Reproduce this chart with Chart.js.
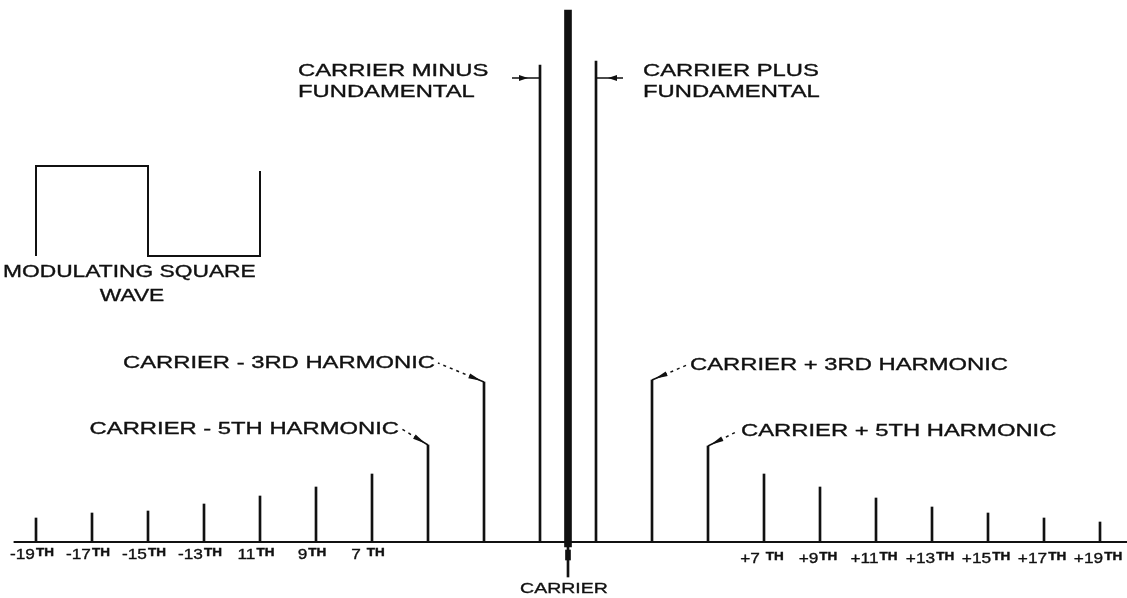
<!DOCTYPE html>
<html lang="en">
<head>
  <meta charset="UTF-8">
  <title>Square wave AM spectrum</title>
  <script src="https://cdn.jsdelivr.net/npm/chart.js"></script>
  <style>
    body { margin: 0; padding: 0; background: #fff; }
    #spectrum { display: block; }
  </style>
</head>
<body>
  <canvas id="spectrum" width="1127" height="598"></canvas>

  <script>
    // sideband order (relative to the carrier) and line height
    const orders = [-19, -17, -15, -13, -11, -9, -7, -5, -3, -1, 1, 3, 5, 7, 9, 11, 13, 15, 17, 19];
    const amplitudes = [24, 29, 31, 38, 46, 55, 68, 97, 160, 477, 481, 162, 96, 68, 55, 44, 35, 29, 24, 20];
    const carrierAmplitude = 532;

    // labels under the baseline
    const tickOrders = [-19, -17, -15, -13, -11, -9, -7, 7, 9, 11, 13, 15, 17, 19];
    const tickNumbers = ['-19', '-17', '-15', '-13', '11', '9', '7 ', '+7 ', '+9', '+11', '+13', '+15', '+17', '+19'];

    // little modulating waveform drawn on the left
    const squareWaveX = [-19, -19, -15, -15, -11, -11];
    const squareWaveY = [286, 376, 376, 286, 286, 371];

    // harmonic call-outs: order, text, leader vector
    const callouts = [
      { n: -3, text: 'CARRIER - 3RD HARMONIC', dx: -46, dy: -19 },
      { n: -5, text: 'CARRIER - 5TH HARMONIC', dx: -26, dy: -16 },
      { n: 3, text: 'CARRIER + 3RD HARMONIC', dx: 35, dy: -15 },
      { n: 5, text: 'CARRIER + 5TH HARMONIC', dx: 30, dy: -15 }
    ];

    const INK = '#111';
    const FONT = '"Liberation Sans", Arial, sans-serif';

    function txt(ctx, s, x, y, size, sx, align, weight) {
      ctx.save();
      ctx.translate(x, y);
      ctx.scale(sx, 1);
      ctx.font = (weight || 'normal') + ' ' + size + 'px ' + FONT;
      ctx.textAlign = align || 'left';
      ctx.textBaseline = 'middle';
      ctx.fillStyle = INK;
      ctx.strokeStyle = INK;
      ctx.lineWidth = 0.35;
      ctx.fillText(s, 0, 0);
      ctx.strokeText(s, 0, 0);
      ctx.restore();
    }

    function wedge(ctx, tx, ty, ux, uy, len, half) {
      const bx = tx + ux * len, by = ty + uy * len;
      ctx.beginPath();
      ctx.moveTo(tx, ty);
      ctx.lineTo(bx - uy * half, by + ux * half);
      ctx.lineTo(bx + uy * half, by - ux * half);
      ctx.closePath();
      ctx.fill();
    }

    const annotations = {
      id: 'annotations',
      afterDatasetsDraw(chart) {
        const ctx = chart.ctx;
        const xs = chart.scales.x, ys = chart.scales.y;
        const base = ys.getPixelForValue(0);
        ctx.save();
        ctx.strokeStyle = INK;
        ctx.fillStyle = INK;
        ctx.lineWidth = 1.5;

        // order labels with small "TH"
        tickOrders.forEach((n, i) => {
          const cx = xs.getPixelForValue(n) - (n < 0 ? 4 : 2);
          const cy = base + (n < 0 ? 13 : 17);
          ctx.font = 'normal 15px ' + FONT;
          const wn = ctx.measureText(tickNumbers[i]).width * 1.15;
          ctx.font = 'bold 10px ' + FONT;
          const wt = ctx.measureText('TH').width * 1.35;
          const left = cx - (wn + wt + 1) / 2;
          txt(ctx, tickNumbers[i], left, cy, 15, 1.15);
          txt(ctx, 'TH', left + wn + 1, cy - 2, 10, 1.35, 'left', 'bold');
        });

        // fundamentals
        const xm = xs.getPixelForValue(-1), xp = xs.getPixelForValue(1);
        const ya = ys.getPixelForValue(amplitudes[orders.indexOf(-1)]) + 13;
        txt(ctx, 'CARRIER MINUS', xm - 242, 71, 17, 1.4);
        txt(ctx, 'FUNDAMENTAL', xm - 242, 92, 17, 1.4);
        txt(ctx, 'CARRIER PLUS', xp + 47, 71, 17, 1.4);
        txt(ctx, 'FUNDAMENTAL', xp + 47, 92, 17, 1.4);
        ctx.beginPath();
        ctx.moveTo(xm - 28, ya); ctx.lineTo(xm, ya);
        ctx.moveTo(xp, ya); ctx.lineTo(xp + 27, ya);
        ctx.stroke();
        wedge(ctx, xm - 12, ya, -1, 0, 9, 3);
        wedge(ctx, xp + 12, ya, 1, 0, 9, 3);

        // harmonic call-outs
        callouts.forEach(c => {
          const ex = xs.getPixelForValue(c.n);
          const ey = ys.getPixelForValue(amplitudes[orders.indexOf(c.n)]);
          const len = Math.hypot(c.dx, c.dy);
          const ux = c.dx / len, uy = c.dy / len;
          ctx.setLineDash([]);
          ctx.beginPath();
          ctx.moveTo(ex, ey);
          ctx.lineTo(ex + ux * 16, ey + uy * 16);
          ctx.stroke();
          wedge(ctx, ex + ux * 3, ey + uy * 3, ux, uy, 13, 2.5);
          ctx.setLineDash([3, 4]);
          ctx.beginPath();
          ctx.moveTo(ex + ux * 20, ey + uy * 20);
          ctx.lineTo(ex + c.dx, ey + c.dy);
          ctx.stroke();
          ctx.setLineDash([]);
          if (c.dx < 0) txt(ctx, c.text, ex + c.dx - 3, ey + c.dy, 17, 1.4, 'right');
          else txt(ctx, c.text, ex + c.dx + 3, ey + c.dy, 17, 1.4, 'left');
        });

        // square wave caption
        txt(ctx, 'MODULATING SQUARE', 3, 272, 17, 1.34);
        txt(ctx, 'WAVE', 132, 296, 17, 1.34, 'center');

        // carrier caption
        txt(ctx, 'CARRIER', xs.getPixelForValue(0) - 4, 589, 15, 1.3, 'center');
        ctx.restore();
      }
    };

    const harmonicData = orders.map((n, i) => ({ x: n, y: amplitudes[i] }));

    new Chart(document.getElementById('spectrum'), {
      type: 'bar',
      data: {
        datasets: [
          { data: harmonicData, backgroundColor: INK, barThickness: 2, grouped: false },
          { data: [{ x: 0, y: [-5, carrierAmplitude] }], backgroundColor: INK, barThickness: 7, grouped: false },
          { data: [{ x: 0, y: [-35, -5] }], backgroundColor: INK, barThickness: 2, grouped: false },
          { data: [{ x: 0, y: [-18, -8] }], backgroundColor: INK, barThickness: 5, grouped: false },
          {
            type: 'line',
            data: [{ x: -19.8, y: 0 }, { x: 20, y: 0 }],
            borderColor: INK, borderWidth: 2, pointRadius: 0
          },
          {
            type: 'line',
            data: squareWaveX.map((x, i) => ({ x: x, y: squareWaveY[i] })),
            borderColor: INK, borderWidth: 2, pointRadius: 0, tension: 0
          }
        ]
      },
      options: {
        responsive: false,
        animation: false,
        layout: { padding: 0 },
        plugins: { legend: { display: false }, tooltip: { enabled: false } },
        scales: {
          x: { type: 'linear', min: -568 / 28, max: 559 / 28, offset: false, display: false },
          y: { min: -56, max: 542, display: false }
        }
      },
      plugins: [annotations]
    });
  </script>
</body>
</html>
